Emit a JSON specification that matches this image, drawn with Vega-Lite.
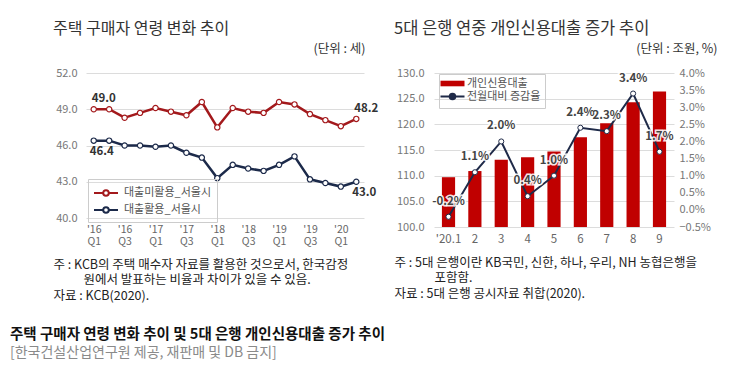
{
  "$schema": "https://vega.github.io/schema/vega-lite/v6.json",
  "background": "white",
  "padding": {"left": 10, "top": 20, "right": 0, "bottom": 0},
  "config": {
    "font": "Noto Sans CJK KR",
    "view": {"stroke": null},
    "axis": {"labelFont": "Noto Sans CJK KR", "titleFont": "Noto Sans CJK KR"},
    "legend": {"labelFont": "Noto Sans CJK KR"},
    "title": {"font": "Noto Sans CJK KR", "subtitleFont": "Noto Sans CJK KR"}
  },
  "title": {
    "text": "주택 구매자 연령 변화 추이 및 5대 은행 개인신용대출 증가 추이",
    "subtitle": "[한국건설산업연구원 제공, 재판매 및 DB 금지]",
    "orient": "bottom",
    "anchor": "start",
    "frame": "bounds",
    "fontSize": 14.5,
    "fontWeight": "bold",
    "color": "#111111",
    "subtitleColor": "#8a8a8a",
    "subtitleFontSize": 14,
    "subtitlePadding": 4,
    "offset": 26,
    "dx": -43
  },
  "bounds": "flush",
  "spacing": 70,
  "resolve": {"legend": {"color": "independent", "stroke": "independent"}, "scale": {"color": "independent", "stroke": "independent"}},
  "hconcat": [
    {
      "width": 278,
      "height": 145,
      "title": {"text": "주택 구매자 연령 변화 추이", "anchor": "start", "fontSize": 16, "fontWeight": "normal", "color": "#333333", "offset": 5},
      "data": {"values": [
        {"q": "'16 Q1", "s": "대출미활용_서울시", "v": 49.0, "lab": "49.0"},
        {"q": "'16 Q2", "s": "대출미활용_서울시", "v": 49.0},
        {"q": "'16 Q3", "s": "대출미활용_서울시", "v": 48.3},
        {"q": "'16 Q4", "s": "대출미활용_서울시", "v": 48.7},
        {"q": "'17 Q1", "s": "대출미활용_서울시", "v": 49.1},
        {"q": "'17 Q2", "s": "대출미활용_서울시", "v": 48.8},
        {"q": "'17 Q3", "s": "대출미활용_서울시", "v": 48.5},
        {"q": "'17 Q4", "s": "대출미활용_서울시", "v": 49.6},
        {"q": "'18 Q1", "s": "대출미활용_서울시", "v": 47.5},
        {"q": "'18 Q2", "s": "대출미활용_서울시", "v": 49.1},
        {"q": "'18 Q3", "s": "대출미활용_서울시", "v": 48.8},
        {"q": "'18 Q4", "s": "대출미활용_서울시", "v": 48.7},
        {"q": "'19 Q1", "s": "대출미활용_서울시", "v": 49.6},
        {"q": "'19 Q2", "s": "대출미활용_서울시", "v": 49.4},
        {"q": "'19 Q3", "s": "대출미활용_서울시", "v": 48.6},
        {"q": "'19 Q4", "s": "대출미활용_서울시", "v": 48.1},
        {"q": "'20 Q1", "s": "대출미활용_서울시", "v": 47.6},
        {"q": "'20 Q2", "s": "대출미활용_서울시", "v": 48.2, "lab": "48.2"},
        {"q": "'16 Q1", "s": "대출활용_서울시", "v": 46.4, "lab": "46.4"},
        {"q": "'16 Q2", "s": "대출활용_서울시", "v": 46.4},
        {"q": "'16 Q3", "s": "대출활용_서울시", "v": 46.0},
        {"q": "'16 Q4", "s": "대출활용_서울시", "v": 46.0},
        {"q": "'17 Q1", "s": "대출활용_서울시", "v": 45.9},
        {"q": "'17 Q2", "s": "대출활용_서울시", "v": 46.0},
        {"q": "'17 Q3", "s": "대출활용_서울시", "v": 45.4},
        {"q": "'17 Q4", "s": "대출활용_서울시", "v": 45.0},
        {"q": "'18 Q1", "s": "대출활용_서울시", "v": 43.3},
        {"q": "'18 Q2", "s": "대출활용_서울시", "v": 44.4},
        {"q": "'18 Q3", "s": "대출활용_서울시", "v": 44.1},
        {"q": "'18 Q4", "s": "대출활용_서울시", "v": 43.9},
        {"q": "'19 Q1", "s": "대출활용_서울시", "v": 44.4},
        {"q": "'19 Q2", "s": "대출활용_서울시", "v": 45.1},
        {"q": "'19 Q3", "s": "대출활용_서울시", "v": 43.2},
        {"q": "'19 Q4", "s": "대출활용_서울시", "v": 42.9},
        {"q": "'20 Q1", "s": "대출활용_서울시", "v": 42.6},
        {"q": "'20 Q2", "s": "대출활용_서울시", "v": 43.0, "lab": "43.0"}
      ]},
      "encoding": {
        "x": {
          "field": "q", "type": "ordinal", "sort": null,
          "scale": {"type": "point", "padding": 0.5},
          "axis": {
            "labelAngle": 0,
            "labelExpr": "test(/Q[13]$/, datum.value) ? split(datum.value, ' ') : ''",
            "labelColor": "#666666", "labelFontSize": 10.5, "labelLineHeight": 12,
            "labelPadding": 6, "ticks": false, "domain": false, "grid": false,
            "title": ["주 : KCB의 주택 매수자 자료를 활용한 것으로서, 한국감정", "\u2800\u2800\u2800원에서 발표하는 비율과 차이가 있을 수 있음.", "자료 : KCB(2020)."],
            "titleFontSize": 12.5, "titleFontWeight": "normal", "titleColor": "#222222",
            "titleAnchor": "start", "titleAlign": "left", "titleBaseline": "top",
            "titleX": -33, "titleY": 40, "titleLineHeight": 15.5
          }
        },
        "y": {
          "field": "v", "type": "quantitative",
          "scale": {"domain": [40, 52]},
          "axis": {
            "values": [40, 43, 46, 49, 52], "format": ".1f",
            "labelColor": "#777777", "labelFontSize": 11, "labelPadding": 9,
            "domain": false, "ticks": false, "gridColor": "#dcdcdc",
            "title": "(단위 : 세)", "titleAngle": 0, "titleAlign": "right", "titleBaseline": "middle",
            "titleX": 279, "titleY": -25, "titleFontSize": 12.5, "titleFontWeight": "normal", "titleColor": "#333333"
          }
        }
      },
      "layer": [
        {
          "mark": {"type": "line", "strokeWidth": 2.5},
          "encoding": {
            "color": {
              "field": "s", "type": "nominal",
              "scale": {"domain": ["대출미활용_서울시", "대출활용_서울시"], "range": ["#a3191c", "#1c2a4a"]},
              "legend": {
                "title": null, "orient": "none", "legendX": 2, "legendY": 106,
                "strokeColor": "#cccccc", "padding": 5, "rowPadding": 1,
                "labelFontSize": 11, "labelColor": "#555555", "labelOffset": 9,
                "symbolType": "M-1.5,0H-0.35M0.35,0H1.5M0.35,0A0.35,0.35,0,1,1,-0.35,0A0.35,0.35,0,1,1,0.35,0",
                "symbolSize": 256, "symbolStrokeWidth": 2, "symbolOffset": 4,
                "encode": {"symbols": {"update": {"fill": {"value": "white"}}}}
              }
            }
          }
        },
        {
          "mark": {"type": "point", "filled": true, "fill": "white", "size": 28, "strokeWidth": 1.2, "opacity": 1},
          "encoding": {
            "stroke": {
              "field": "s", "type": "nominal",
              "scale": {"domain": ["대출미활용_서울시", "대출활용_서울시"], "range": ["#a3191c", "#1c2a4a"]},
              "legend": null
            }
          }
        },
        {
          "transform": [{"filter": "datum.lab != null && datum.s == '대출미활용_서울시'"}],
          "mark": {"type": "text", "align": "left", "dx": -2, "dy": -10, "fontSize": 11.5, "fontWeight": "bold", "color": "#333333"},
          "encoding": {"text": {"field": "lab"}}
        },
        {
          "transform": [{"filter": "datum.lab != null && datum.s == '대출활용_서울시'"}],
          "mark": {"type": "text", "align": "left", "dx": -4, "dy": 11, "fontSize": 11.5, "fontWeight": "bold", "color": "#333333"},
          "encoding": {"text": {"field": "lab"}}
        }
      ]
    },
    {
      "width": 240,
      "height": 154,
      "title": {"text": "5대 은행 연중 개인신용대출 증가 추이", "anchor": "start", "fontSize": 16.5, "fontWeight": "normal", "color": "#333333", "offset": 5},
      "data": {"values": [
        {"m": "'20.1", "loan": 109.7, "rate": -0.2, "lab": "-0.2%"},
        {"m": "2", "loan": 110.9, "rate": 1.1, "lab": "1.1%"},
        {"m": "3", "loan": 113.1, "rate": 2.0, "lab": "2.0%"},
        {"m": "4", "loan": 113.6, "rate": 0.4, "lab": "0.4%"},
        {"m": "5", "loan": 114.7, "rate": 1.0, "lab": "1.0%"},
        {"m": "6", "loan": 117.5, "rate": 2.4, "lab": "2.4%"},
        {"m": "7", "loan": 120.2, "rate": 2.3, "lab": "2.3%"},
        {"m": "8", "loan": 124.3, "rate": 3.4, "lab": "3.4%"},
        {"m": "9", "loan": 126.4, "rate": 1.7, "lab": "1.7%"}
      ]},
      "encoding": {
        "x": {
          "field": "m", "type": "ordinal", "sort": null,
          "scale": {"paddingInner": 0.5, "paddingOuter": 0.3},
          "axis": {
            "labelAngle": 0, "labelColor": "#666666", "labelFontSize": 11.5, "labelPadding": 6,
            "ticks": false, "domain": false, "grid": false,
            "title": ["주 : 5대 은행이란 KB국민, 신한, 하나, 우리, NH 농협은행을", "\u2800\u2800\u2800\u2800포함함.", "자료 : 5대 은행 공시자료 취합(2020)."],
            "titleFontSize": 12.5, "titleFontWeight": "normal", "titleColor": "#222222",
            "titleAnchor": "start", "titleAlign": "left", "titleBaseline": "top",
            "titleX": -40, "titleY": 29, "titleLineHeight": 15.5
          }
        }
      },
      "layer": [
        {
          "mark": {"type": "bar"},
          "encoding": {
            "y": {
              "field": "loan", "type": "quantitative",
              "scale": {"domain": [100, 130]},
              "axis": {
                "values": [100, 105, 110, 115, 120, 125, 130], "format": ".1f",
                "labelColor": "#777777", "labelFontSize": 11, "labelPadding": 10,
                "domain": false, "ticks": false, "gridColor": "#dcdcdc", "title": null
              }
            },
            "y2": {"datum": 100},
            "color": {
              "datum": "개인신용대출", "type": "nominal",
              "scale": {"domain": ["개인신용대출", "전월대비 증감율"], "range": ["#c00000", "#1f2a48"]},
              "legend": {
                "title": null, "orient": "none", "legendX": 5, "legendY": 1,
                "strokeColor": "#cccccc", "padding": 4, "rowPadding": 0,
                "labelFontSize": 11, "labelColor": "#555555", "labelOffset": 9,
                "symbolSize": 256, "symbolStrokeWidth": 2, "symbolOffset": 4,
                "encode": {"symbols": {"update": {
                  "shape": {"signal": "datum.value === '개인신용대출' ? 'M-1.5,-0.35H1.5V0.35H-1.5Z' : 'M-1.5,0H-0.35M0.35,0H1.5M0.35,0A0.35,0.35,0,1,1,-0.35,0A0.35,0.35,0,1,1,0.35,0'"},
                  "fill": {"signal": "datum.value === '개인신용대출' ? '#c00000' : 'white'"},
                  "stroke": {"signal": "datum.value === '개인신용대출' ? '#c00000' : '#1f2a48'"},
                  "strokeWidth": {"signal": "datum.value === '개인신용대출' ? 0 : 2"},
                  "opacity": {"value": 1}
                }}}
              }
            }
          }
        },
        {
          "encoding": {
            "y": {
              "field": "rate", "type": "quantitative",
              "scale": {"domain": [-0.5, 4]},
              "axis": {
                "orient": "right",
                "values": [-0.5, 0, 0.5, 1, 1.5, 2, 2.5, 3, 3.5, 4],
                "labelExpr": "format(datum.value, '.1f') + '%'",
                "labelColor": "#777777", "labelFontSize": 11, "labelPadding": 5,
                "domain": false, "ticks": false, "grid": false,
                "title": "(단위 : 조원, %)", "titleAngle": 0, "titleAlign": "right", "titleBaseline": "middle",
                "titleX": 43, "titleY": -25, "titleFontSize": 12.5, "titleFontWeight": "normal", "titleColor": "#333333"
              }
            }
          },
          "layer": [
            {
              "mark": {"type": "line", "strokeWidth": 2, "color": "#1f2a48"},
              "encoding": {"color": {"datum": "전월대비 증감율", "type": "nominal"}}
            },
            {
              "mark": {"type": "point", "filled": true, "fill": "white", "stroke": "#1f2a48", "size": 26, "strokeWidth": 1, "opacity": 1},
              "encoding": {}
            },
            {
              "mark": {"type": "text", "dy": -15, "fontSize": 11.5, "fontWeight": "bold", "stroke": "white", "strokeWidth": 3, "strokeOpacity": 0.9, "color": "white"},
              "encoding": {"text": {"field": "lab"}}
            },
            {
              "mark": {"type": "text", "dy": -15, "fontSize": 11.5, "fontWeight": "bold", "color": "#444444"},
              "encoding": {"text": {"field": "lab"}}
            }
          ]
        }
      ],
      "resolve": {"scale": {"y": "independent"}}
    }
  ]
}
